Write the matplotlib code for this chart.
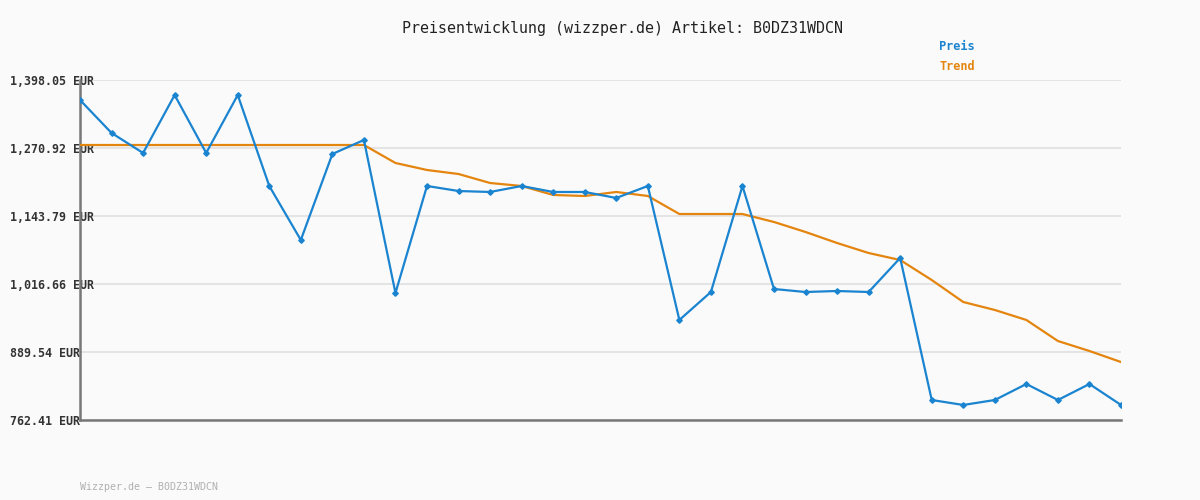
import matplotlib.pyplot as plt

# Data
preis = [1360.7, 1299.0, 1261.6, 1370.0, 1261.6, 1370.0, 1199.9, 1098.9, 1259.7, 1285.9,
         999.8, 1199.9, 1190.5, 1188.7, 1199.9, 1188.7, 1188.7, 1177.5, 1199.9, 949.4,
         1001.7, 1199.9, 1007.3, 1001.7, 1003.6, 1001.7, 1065.3, 799.8, 790.5, 799.8,
         829.7, 799.8, 829.7, 790.5]
trend = [1276.5, 1276.5, 1276.5, 1276.5, 1276.5, 1276.5, 1276.5, 1276.5, 1276.5, 1276.5,
         1242.9, 1229.8, 1222.3, 1205.5, 1199.9, 1183.1, 1181.2, 1188.7, 1181.2, 1147.5,
         1147.5, 1147.5, 1132.6, 1113.9, 1093.3, 1074.6, 1061.5, 1024.1, 983.0, 968.1,
         949.4, 910.1, 891.4, 870.8]
yticks = [762.41, 889.54, 1016.66, 1143.79, 1270.92, 1398.05]
ylabels = ['{:,.2f} EUR'.format(v) for v in yticks]
x = list(range(len(preis)))

blue = '#1a84d0'
orange = '#e4850f'
bg = '#fafafa'

fig = plt.figure(figsize=(12, 5), dpi=100, facecolor=bg)
ax = fig.add_axes([80/1200, 1-420/500, 1041/1200, 340/500], facecolor=bg)

ax.plot(x, trend, color=orange, lw=1.6, zorder=3)
ax.plot(x, preis, color=blue, lw=1.6, marker='D', markersize=2.8, zorder=4)

ax.set_xlim(0, len(preis) - 1)
ax.set_ylim(yticks[0], yticks[-1])
ax.set_xticks([])
ax.set_yticks(yticks)
ax.set_yticklabels(ylabels, family='DejaVu Sans Mono', fontsize=8.4,
                   fontweight='bold', color='#333333', ha='left')
ax.tick_params(axis='y', length=0, pad=50.4)
ax.grid(axis='y', color='#e4e4e4', lw=1.5, zorder=0)

for s in ['top', 'right']:
    ax.spines[s].set_visible(False)
for s in ['left', 'bottom']:
    ax.spines[s].set_color('#777777')
    ax.spines[s].set_linewidth(1.8)

fig.text(623/1200, 1-28/500, 'Preisentwicklung (wizzper.de) Artikel: B0DZ31WDCN',
         family='DejaVu Sans Mono', fontsize=10.8, color='#222222',
         ha='center', va='center')
fig.text(939/1200, 1-47/500, 'Preis', family='DejaVu Sans Mono', fontsize=8.6,
         fontweight='bold', color=blue, ha='left', va='center')
fig.text(939/1200, 1-67/500, 'Trend', family='DejaVu Sans Mono', fontsize=8.6,
         fontweight='bold', color=orange, ha='left', va='center')
fig.text(80/1200, 1-487/500, 'Wizzper.de \u2013 B0DZ31WDCN', family='DejaVu Sans Mono',
         fontsize=7.2, color='#b0b0b0', ha='left', va='center')

fig.savefig('out.png', dpi=100, facecolor=bg)
